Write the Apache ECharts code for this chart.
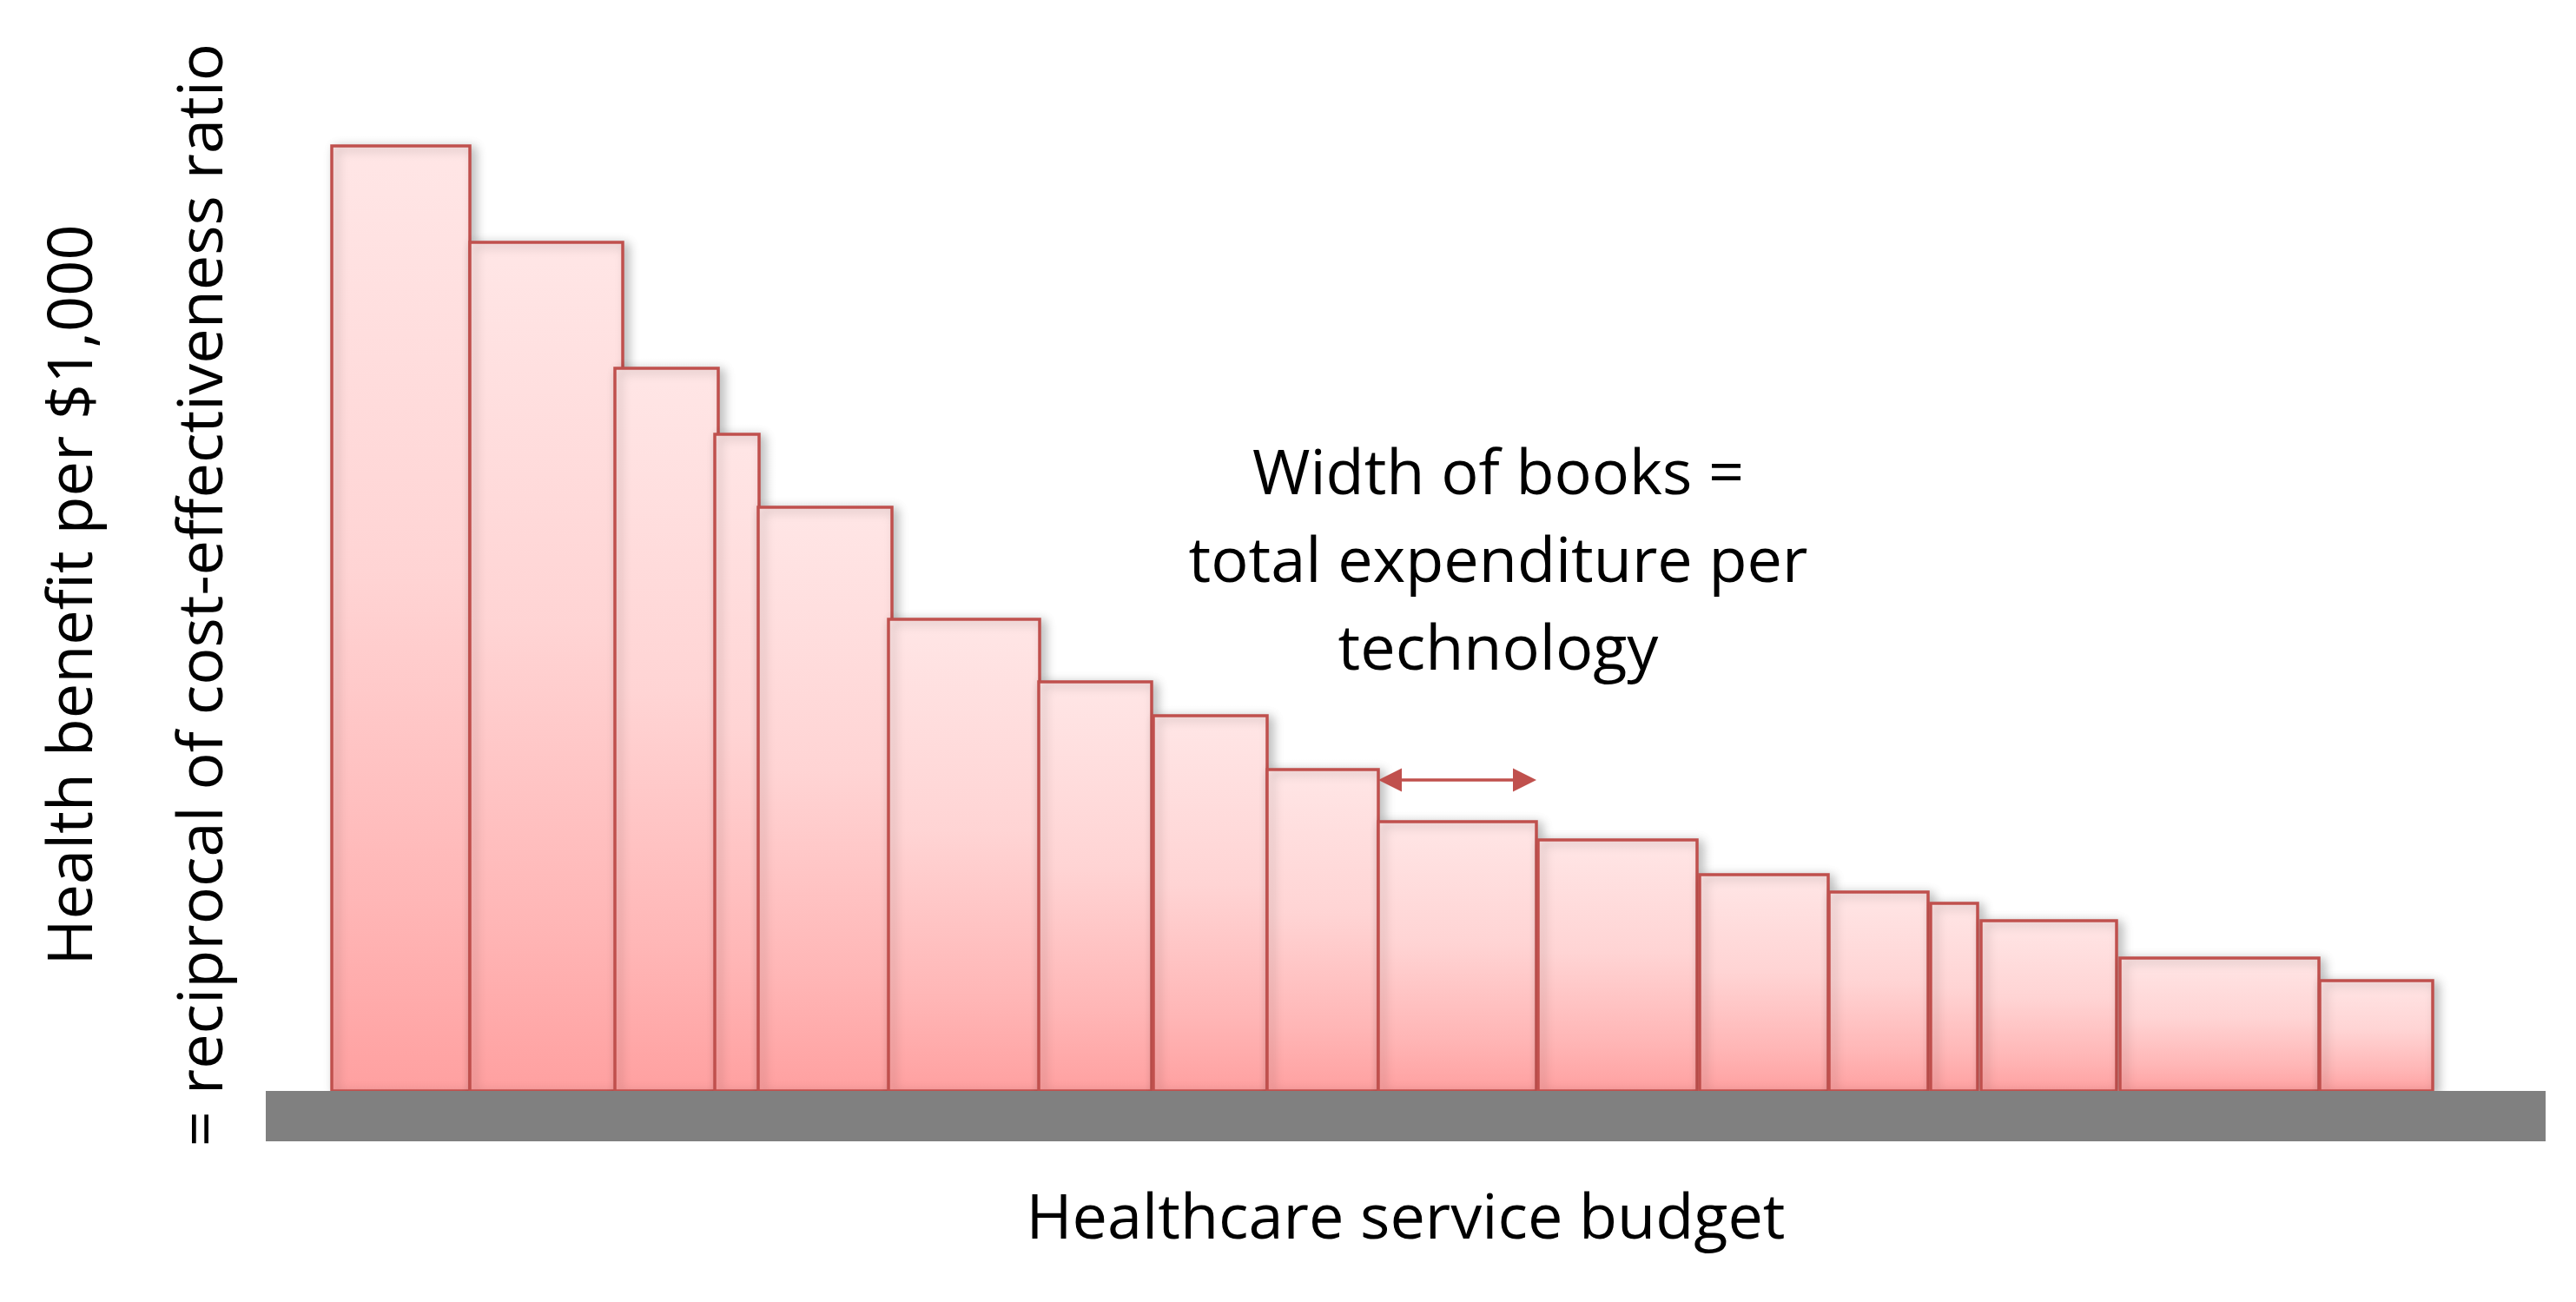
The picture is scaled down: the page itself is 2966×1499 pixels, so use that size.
<!DOCTYPE html>
<html><head><meta charset="utf-8">
<script src="https://cdn.jsdelivr.net/npm/echarts@6/dist/echarts.min.js"></script>
<style>html,body{margin:0;padding:0;background:#fff}#c{width:2966px;height:1499px}</style>
</head><body><div id="c"></div>
<script>
// Each "book" = one health technology
const bookStart     = [7.6, 23.5, 40.2, 51.7, 56.7, 71.7, 89.0, 102.2, 115.3, 128.1, 146.5, 165.1, 180.0, 191.7, 197.5, 213.5, 236.5];
const bookWidth     = [15.9, 17.6, 11.9, 5.1, 15.4, 17.4, 13.0, 13.1, 12.8, 18.2, 18.3, 14.8, 11.4, 5.4, 15.6, 22.9, 13.0];
const healthBenefit = [108.8, 97.7, 83.2, 75.6, 67.2, 54.3, 47.1, 43.2, 37.0, 31.0, 28.9, 24.9, 22.9, 21.6, 19.6, 15.3, 12.7];
const budgetMax = 262.5;
const shelfDepth = -5.8;
const arrowBook = 9;      // the book whose width is annotated
const arrowLevel = 35.8;

const xName = 'Healthcare service budget';
const yName = 'Health benefit per $1,000\n= reciprocal of cost-effectiveness ratio';
const noteText = 'Width of books =\ntotal expenditure per\ntechnology';

const FONT = '"Open Sans"';
const FS = 72;
const RED = '#C0504D';

const chart = echarts.init(document.getElementById('c'), null, {renderer: 'canvas'});

const bookFill = new echarts.graphic.LinearGradient(0, 0, 0, 1, [
  {offset: 0, color: '#FFE6E6'},
  {offset: 0.45, color: '#FFD4D4'},
  {offset: 0.8, color: '#FFB6B6'},
  {offset: 1, color: '#FFA0A0'}
]);

chart.setOption({
  animation: false,
  backgroundColor: '#fff',
  grid: {left: 306, right: 35, top: 56, bottom: 185, containLabel: false, outerBoundsMode: 'none'},
  xAxis: {
    type: 'value', min: 0, max: budgetMax,
    axisLine: {show: false}, axisTick: {show: false}, axisLabel: {show: false}, splitLine: {show: false},
    name: xName, nameLocation: 'middle', nameGap: 51,
    nameTextStyle: {fontFamily: FONT, fontSize: FS, color: '#000', lineHeight: 80}
  },
  yAxis: {
    type: 'value', min: shelfDepth, max: 120,
    axisLine: {show: false}, axisTick: {show: false}, axisLabel: {show: false}, splitLine: {show: false},
    name: yName, nameLocation: 'middle', nameGap: -4, nameRotate: 90,
    nameTextStyle: {fontFamily: FONT, fontSize: FS, color: '#000', lineHeight: 150, align: 'center'}
  },
  graphic: [{
    type: 'text', left: 1725 - 400, top: 498,
    style: {text: noteText, font: FS + 'px ' + FONT, fill: '#000', textAlign: 'center', lineHeight: 101, width: 800}
  }],
  series: [
    {
      type: 'custom', z: 2,
      data: bookStart.map((s, i) => [s, bookWidth[i], healthBenefit[i]]),
      encode: {x: 0, y: 2},
      renderItem: (params, api) => {
        const x0 = api.value(0), w = api.value(1), h = api.value(2);
        const p0 = api.coord([x0, h]);
        const p1 = api.coord([x0 + w, 0]);
        return {
          type: 'rect',
          shape: {x: p0[0], y: p0[1], width: p1[0] - p0[0], height: p1[1] - p0[1]},
          style: {fill: bookFill, stroke: RED, lineWidth: 3.5,
                  shadowBlur: 12, shadowColor: 'rgba(0,0,0,0.25)', shadowOffsetX: 5, shadowOffsetY: 3}
        };
      }
    },
    {
      type: 'custom', z: 3,
      data: [[0, budgetMax]],
      encode: {x: [0, 1]},
      renderItem: (params, api) => {
        const a = api.coord([api.value(0), 0]);
        const b = api.coord([api.value(1), shelfDepth]);
        return {type: 'rect', shape: {x: a[0], y: a[1], width: b[0] - a[0], height: b[1] - a[1]},
                style: {fill: '#808080'}};
      }
    },
    {
      type: 'custom', z: 4,
      data: [[bookStart[arrowBook], bookStart[arrowBook] + bookWidth[arrowBook], arrowLevel]],
      encode: {x: [0, 1], y: 2},
      renderItem: (params, api) => {
        const a = api.coord([api.value(0), api.value(2)]);
        const b = api.coord([api.value(1), api.value(2)]);
        const L = 27, H = 13.5;
        return {type: 'group', children: [
          {type: 'line', shape: {x1: a[0] + L - 2, y1: a[1], x2: b[0] - L + 2, y2: b[1]}, style: {stroke: RED, lineWidth: 3.5}},
          {type: 'polygon', shape: {points: [[a[0], a[1]], [a[0] + L, a[1] - H], [a[0] + L, a[1] + H]]}, style: {fill: RED}},
          {type: 'polygon', shape: {points: [[b[0], b[1]], [b[0] - L, b[1] - H], [b[0] - L, b[1] + H]]}, style: {fill: RED}}
        ]};
      }
    }
  ]
});
</script>
</body></html>
